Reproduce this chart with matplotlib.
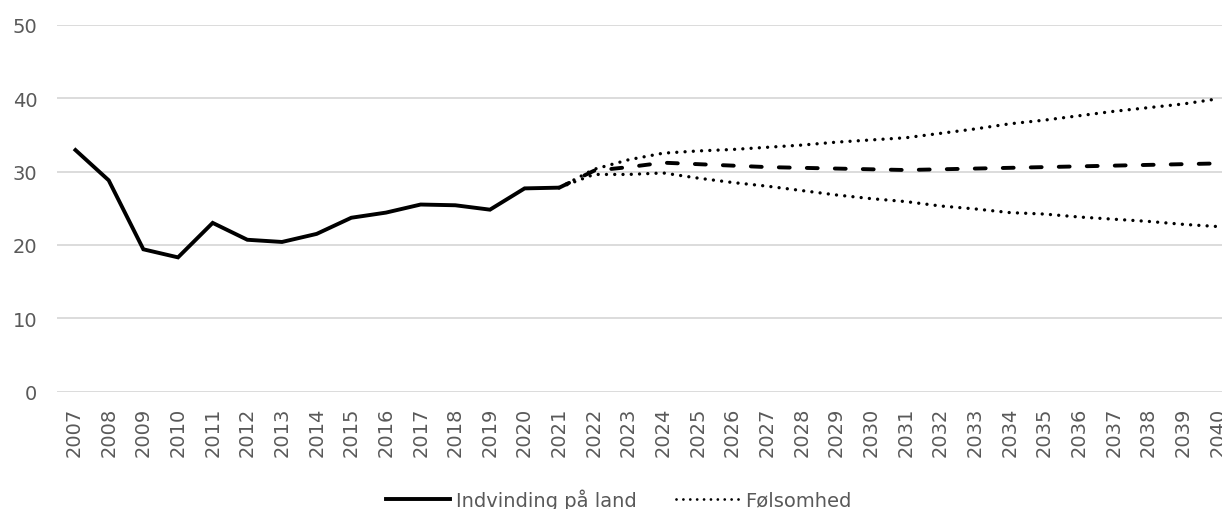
import matplotlib
matplotlib.use("Agg")
import matplotlib.pyplot as plt
from matplotlib.lines import Line2D

years_hist = list(range(2007, 2022))
hist = [33.1, 28.8, 19.4, 18.3, 23.0, 20.7, 20.4, 21.5, 23.7, 24.4, 25.5, 25.4, 24.8, 27.7, 27.8]

years_proj = list(range(2021, 2041))
central = [27.8, 30.1, 30.6, 31.2, 31.0, 30.8, 30.6, 30.5, 30.4, 30.3,
           30.2, 30.3, 30.4, 30.5, 30.6, 30.7, 30.8, 30.9, 31.0, 31.1]
upper = [27.8, 30.3, 31.6, 32.5, 32.8, 33.0, 33.3, 33.6, 34.0, 34.3,
         34.6, 35.2, 35.8, 36.5, 37.0, 37.6, 38.2, 38.7, 39.2, 39.9]
lower = [27.8, 29.6, 29.6, 29.8, 29.1, 28.5, 28.0, 27.4, 26.8, 26.3,
         25.9, 25.3, 24.9, 24.4, 24.2, 23.8, 23.5, 23.2, 22.8, 22.5]

yticks = [0, 10, 20, 30, 40, 50]
legend_labels = ["Indvinding på land", "Følsomhed"]

plt.rcParams['font.family'] = ['DejaVu Sans']
gray = '#595959'

fig = plt.figure(figsize=(12.22, 5.10), dpi=100)
ax = fig.add_axes([56.7/1222, 1-392.7/510, (1222-56.7)/1222, (392.7-25.7)/510])

dot_style = dict(color='black', lw=2.4, linestyle=(0, (0.01, 2.47)), dash_capstyle='round')
ax.plot(years_proj, upper, **dot_style)
ax.plot(years_proj, lower, **dot_style)
ax.plot(years_proj, central, color='black', lw=2.8, linestyle=(0, (2.8, 4.4)), dash_capstyle='round')
ax.plot(years_hist, hist, color='black', lw=2.8, solid_capstyle='butt', solid_joinstyle='miter')

ax.set_xlim(2006.5, 2040.12)
ax.set_ylim(0, 50)
ax.set_yticks(yticks)
ax.set_xticks(list(range(2007, 2041)))
ax.set_xticklabels([str(y) for y in range(2007, 2041)], rotation=90)
ax.tick_params(axis='both', length=0, labelsize=14, labelcolor=gray)
ax.tick_params(axis='x', pad=11)
ax.tick_params(axis='y', pad=14)
ax.grid(axis='y', color='#d9d9d9', lw=1.3)
ax.set_axisbelow(True)
for s in ax.spines.values():
    s.set_visible(False)

handles = [Line2D([], [], color='black', lw=2.8),
           Line2D([], [], color='black', lw=2.0, linestyle=(0, (0.01, 2.47)), dash_capstyle='round')]
leg = fig.legend(handles, legend_labels, loc='center', bbox_to_anchor=(0.5065, 0.0196), ncol=2,
                 frameon=False, fontsize=14, handlelength=3.3, handletextpad=0.3, columnspacing=2.0,
                 borderpad=0, borderaxespad=0)
for t in leg.get_texts():
    t.set_color(gray)

fig.savefig('out.png', dpi=100)
